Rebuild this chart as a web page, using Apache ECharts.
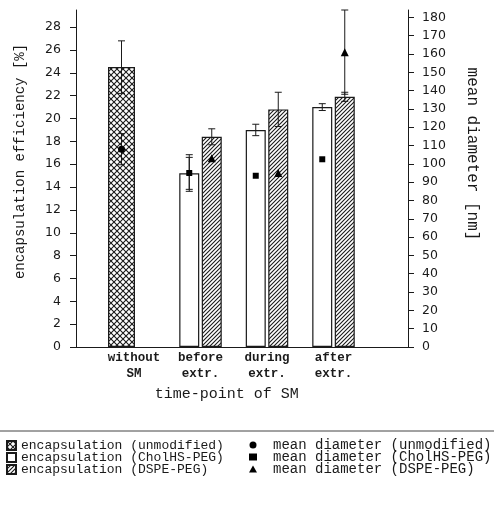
<!DOCTYPE html>
<html>
<head>
<meta charset="utf-8">
<script src="https://cdn.jsdelivr.net/npm/echarts@6/dist/echarts.min.js"></script>
<style>
  html, body { margin: 0; background: #fff; }
  #chart { width: 494px; height: 516px; }
</style>
</head>
<body>
<div id="chart"></div>
<script>
// categories and tick labels
var categories = ['without\nSM', 'before\nextr.', 'during\nextr.', 'after\nextr.'];
var effTicks = [0, 2, 4, 6, 8, 10, 12, 14, 16, 18, 20, 22, 24, 26, 28];
var diamTicks = [0, 10, 20, 30, 40, 50, 60, 70, 80, 90, 100, 110, 120, 130, 140, 150, 160, 170, 180];

// encapsulation efficiency [%] with error
var encUnmod = [24.5, null, null, null];
var encUnmodErr = [2.3, null, null, null];
var encChol = [null, 15.2, 19.0, 21.0];
var encCholErr = [null, 1.4, 0.5, 0.3];
var encDspe = [null, 18.4, 20.8, 21.9];
var encDspeErr = [null, 0.7, 1.5, 0.4];

// mean diameter [nm] with error
var diamUnmod = [108, null, null, null];
var diamUnmodErr = [8.5, null, null, null];
var diamChol = [null, 95, 93.5, 102.5];
var diamCholErr = [null, 10, null, null];
var diamDspe = [null, 103, 95, 161];
var diamDspeErr = [null, null, null, 23];

var ink = '#1a1a1a';
var mono = 'Liberation Mono';

function pattern(size, draw) {
  var c = document.createElement('canvas');
  c.width = size; c.height = size;
  var ctx = c.getContext('2d');
  ctx.fillStyle = '#fff';
  ctx.fillRect(0, 0, size, size);
  ctx.strokeStyle = ink;
  draw(ctx, size);
  return { image: c, repeat: 'repeat' };
}
var crossFill = pattern(6, function (ctx, s) {
  ctx.lineWidth = 1.1;
  ctx.beginPath();
  ctx.moveTo(0, 0); ctx.lineTo(s, s);
  ctx.moveTo(s, 0); ctx.lineTo(0, s);
  ctx.stroke();
});
var hatchFill = pattern(4, function (ctx, s) {
  ctx.lineWidth = 1.1;
  ctx.beginPath();
  ctx.moveTo(0, s); ctx.lineTo(s, 0);
  ctx.moveTo(-1, 1); ctx.lineTo(1, -1);
  ctx.moveTo(s - 1, s + 1); ctx.lineTo(s + 1, s - 1);
  ctx.stroke();
});

function gap(arr) { return arr.map(function (v) { return v == null ? '-' : v; }); }

function errSeries(vals, errs, yIdx, dx) {
  var pts = [];
  vals.forEach(function (v, i) { if (v != null && errs[i] != null) pts.push([i, v, errs[i]]); });
  return {
    type: 'custom', xAxisIndex: 1, yAxisIndex: yIdx, silent: true, z: 6,
    data: pts,
    renderItem: function (params, api) {
      var i = api.value(0), v = api.value(1), e = api.value(2);
      var hi = api.coord([i, v + e]), lo = api.coord([i, v - e]);
      var x = hi[0] + dx, cw = 3.5;
      var st = { stroke: ink, lineWidth: 1 };
      return { type: 'group', children: [
        { type: 'line', shape: { x1: x, y1: hi[1], x2: x, y2: lo[1] }, style: st },
        { type: 'line', shape: { x1: x - cw, y1: hi[1], x2: x + cw, y2: hi[1] }, style: st },
        { type: 'line', shape: { x1: x - cw, y1: lo[1], x2: x + cw, y2: lo[1] }, style: st }
      ]};
    }
  };
}

var barW = 20, barGap = 0.125;
var side = barW * (1 + barGap) / 2;   // offset of white / hatched bar from category centre
var crossW = 27, spacerW = 25;
var crossDx = -spacerW / 2;

var chart = echarts.init(document.getElementById('chart'));
chart.setOption({
  animation: false,
  backgroundColor: '#fff',
  grid: [
    { left: 76, right: 86, top: 10, bottom: 169 },
    { left: 100.75, right: 127.25, top: 10, bottom: 169 }
  ],
  xAxis: [
    { gridIndex: 0, type: 'value', min: 0, max: 1,
      axisLine: { show: true, lineStyle: { color: ink, width: 1 } },
      axisTick: { show: false }, axisLabel: { show: false }, splitLine: { show: false } },
    { gridIndex: 1, type: 'category', data: categories,
      axisLine: { show: false }, axisTick: { show: false }, splitLine: { show: false },
      axisLabel: { interval: 0, margin: 3, color: ink, fontFamily: mono, fontWeight: 'bold', fontSize: 12.5, lineHeight: 16 },
      name: 'time-point of SM', nameLocation: 'middle', nameGap: 36,
      nameTextStyle: { color: ink, fontFamily: mono, fontSize: 15, padding: [0, 14, 0, 0] } },
    { gridIndex: 1, type: 'category', data: categories, show: false }
  ],
  yAxis: [
    { gridIndex: 0, type: 'value', position: 'left', min: 0, max: 29.5,
      axisLine: { show: true, lineStyle: { color: ink, width: 1 } },
      axisTick: { show: true, length: 6, customValues: effTicks, lineStyle: { color: ink } },
      axisLabel: { customValues: effTicks, margin: 15, color: ink, fontFamily: 'DejaVu Sans', fontSize: 12.5 },
      splitLine: { show: false },
      name: 'encapsulation efficiency [%]', nameLocation: 'middle', nameGap: 49,
      nameTextStyle: { color: ink, fontFamily: mono, fontSize: 14, padding: [0, 0, 0, 34] } },
    { gridIndex: 0, type: 'value', position: 'right', min: 0, max: 184,
      axisLine: { show: true, lineStyle: { color: ink, width: 1 } },
      axisTick: { show: true, length: 6, customValues: diamTicks, lineStyle: { color: ink } },
      axisLabel: { customValues: diamTicks, margin: 14, color: ink, fontFamily: 'DejaVu Sans', fontSize: 12.5 },
      splitLine: { show: false },
      name: 'mean diameter [nm]', nameLocation: 'middle', nameGap: 56, nameRotate: -90,
      nameTextStyle: { color: ink, fontFamily: mono, fontSize: 16, padding: [0, 49, 0, 0] } },
    { gridIndex: 1, type: 'value', min: 0, max: 29.5, show: false },
    { gridIndex: 1, type: 'value', min: 0, max: 184, show: false }
  ],
  legend: [
    { left: 1, top: 434, orient: 'vertical', itemWidth: 9, itemHeight: 9, itemGap: -1,
      selectedMode: false, icon: 'rect',
      textStyle: { color: ink, fontFamily: mono, fontSize: 13 },
      data: ['encapsulation (unmodified)', 'encapsulation (CholHS-PEG)', 'encapsulation (DSPE-PEG)'] },
    { left: 244, top: 433, orient: 'vertical', itemWidth: 8, itemHeight: 7, itemGap: -2,
      selectedMode: false,
      textStyle: { color: ink, fontFamily: mono, fontSize: 14, padding: [0, 0, 0, 11] },
      data: ['mean diameter (unmodified)', 'mean diameter (CholHS-PEG)', 'mean diameter (DSPE-PEG)'] }
  ],
  graphic: [
    { type: 'line', shape: { x1: 0, y1: 431, x2: 494, y2: 431 }, style: { stroke: '#444', lineWidth: 1 } }
  ],
  series: [
    { name: 'encapsulation (unmodified)', type: 'bar', xAxisIndex: 2, yAxisIndex: 2,
      data: gap(encUnmod), barWidth: crossW, barGap: '0%',
      itemStyle: { color: crossFill, borderColor: ink, borderWidth: 1.2 } },
    { name: 'spacer', type: 'bar', xAxisIndex: 2, yAxisIndex: 2, silent: true,
      data: ['-', '-', '-', '-'], barWidth: spacerW, barGap: '0%' },
    { name: 'encapsulation (CholHS-PEG)', type: 'bar', xAxisIndex: 1, yAxisIndex: 2,
      data: gap(encChol), barWidth: barW, barGap: (barGap * 100) + '%',
      itemStyle: { color: '#fff', borderColor: ink, borderWidth: 1.2 } },
    { name: 'encapsulation (DSPE-PEG)', type: 'bar', xAxisIndex: 1, yAxisIndex: 2,
      data: gap(encDspe), barWidth: barW, barGap: (barGap * 100) + '%',
      itemStyle: { color: hatchFill, borderColor: ink, borderWidth: 1.2 } },
    errSeries(encUnmod, encUnmodErr, 2, crossDx),
    errSeries(encChol, encCholErr, 2, -side),
    errSeries(encDspe, encDspeErr, 2, side),
    errSeries(diamUnmod, diamUnmodErr, 3, crossDx),
    errSeries(diamChol, diamCholErr, 3, -side),
    errSeries(diamDspe, diamDspeErr, 3, side),
    { name: 'mean diameter (unmodified)', type: 'scatter', xAxisIndex: 1, yAxisIndex: 3, z: 7,
      data: gap(diamUnmod), symbol: 'circle', symbolSize: 7, symbolOffset: [crossDx, 0],
      itemStyle: { color: '#000', opacity: 1 } },
    { name: 'mean diameter (CholHS-PEG)', type: 'scatter', xAxisIndex: 1, yAxisIndex: 3, z: 7,
      data: gap(diamChol), symbol: 'rect', symbolSize: 6, symbolOffset: [-side, 0],
      itemStyle: { color: '#000', opacity: 1 } },
    { name: 'mean diameter (DSPE-PEG)', type: 'scatter', xAxisIndex: 1, yAxisIndex: 3, z: 7,
      data: gap(diamDspe), symbol: 'triangle', symbolSize: 8, symbolOffset: [side, 0],
      itemStyle: { color: '#000', opacity: 1 } }
  ]
});
</script>
</body>
</html>
